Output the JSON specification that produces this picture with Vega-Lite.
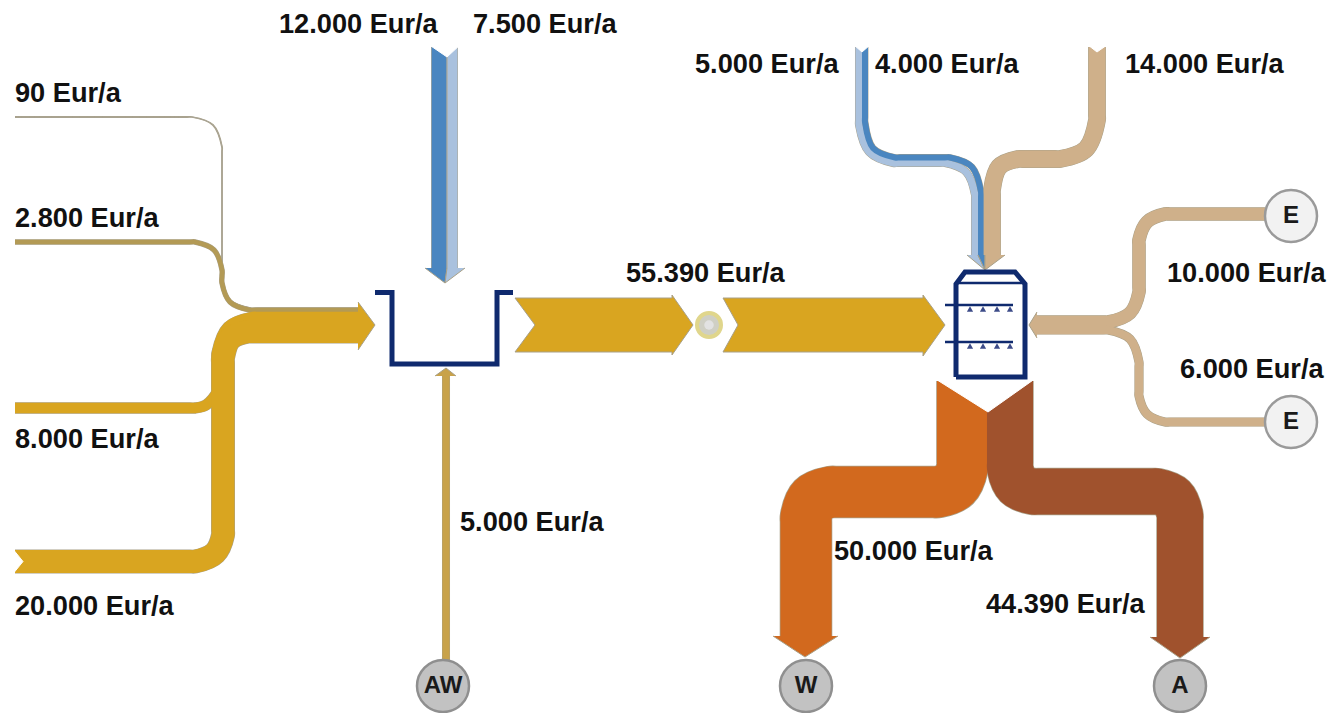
{"$schema":"https://vega.github.io/schema/vega-lite/v6.json","width":1332,"height":713,"padding":0,"autosize":"none","background":"white","config":{"view":{"stroke":null}},
"datasets":{
"flows":[
{"f":"a90","t":"grey","v":90,"s":1,"x":15,"y":117},{"f":"a90","t":"grey","v":90,"s":2,"x":187,"y":117},{"f":"a90","t":"grey","v":90,"s":3,"x":192,"y":117},{"f":"a90","t":"grey","v":90,"s":4,"x":213,"y":125},{"f":"a90","t":"grey","v":90,"s":5,"x":222,"y":147},{"f":"a90","t":"grey","v":90,"s":6,"x":222,"y":152},{"f":"a90","t":"grey","v":90,"s":7,"x":222,"y":273},{"f":"a90","t":"grey","v":90,"s":8,"x":222,"y":278},{"f":"a90","t":"grey","v":90,"s":9,"x":230,"y":300},{"f":"a90","t":"grey","v":90,"s":10,"x":252,"y":308.5},{"f":"a90","t":"grey","v":90,"s":11,"x":257,"y":308.5},{"f":"a90","t":"grey","v":90,"s":12,"x":358,"y":308.5},
{"f":"b28","t":"olive","v":2800,"s":1,"x":15,"y":242},{"f":"b28","t":"olive","v":2800,"s":2,"x":190,"y":242},{"f":"b28","t":"olive","v":2800,"s":3,"x":195,"y":242},{"f":"b28","t":"olive","v":2800,"s":4,"x":214,"y":250},{"f":"b28","t":"olive","v":2800,"s":5,"x":222,"y":270},{"f":"b28","t":"olive","v":2800,"s":6,"x":222,"y":276},{"f":"b28","t":"olive","v":2800,"s":7,"x":222,"y":283},{"f":"b28","t":"olive","v":2800,"s":8,"x":230,"y":302},{"f":"b28","t":"olive","v":2800,"s":9,"x":250,"y":310},{"f":"b28","t":"olive","v":2800,"s":10,"x":255,"y":310},{"f":"b28","t":"olive","v":2800,"s":11,"x":358,"y":310},
{"f":"c80","t":"gold","v":8000,"s":1,"x":15,"y":408},{"f":"c80","t":"gold","v":8000,"s":2,"x":190,"y":408},{"f":"c80","t":"gold","v":8000,"s":3,"x":195,"y":408},{"f":"c80","t":"gold","v":8000,"s":4,"x":206,"y":405},{"f":"c80","t":"gold","v":8000,"s":5,"x":217,"y":392},{"f":"c80","t":"gold","v":8000,"s":6,"x":217,"y":387},{"f":"c80","t":"gold","v":8000,"s":7,"x":217,"y":358},{"f":"c80","t":"gold","v":8000,"s":8,"x":217,"y":353},{"f":"c80","t":"gold","v":8000,"s":9,"x":228,"y":327},{"f":"c80","t":"gold","v":8000,"s":10,"x":253,"y":317},{"f":"c80","t":"gold","v":8000,"s":11,"x":258,"y":317},{"f":"c80","t":"gold","v":8000,"s":12,"x":358,"y":317},
{"f":"d20","t":"gold","v":20000,"s":1,"x":15,"y":561.5},{"f":"d20","t":"gold","v":20000,"s":2,"x":190,"y":561.5},{"f":"d20","t":"gold","v":20000,"s":3,"x":195,"y":561.5},{"f":"d20","t":"gold","v":20000,"s":4,"x":215,"y":553},{"f":"d20","t":"gold","v":20000,"s":5,"x":223,"y":535},{"f":"d20","t":"gold","v":20000,"s":6,"x":223,"y":530},{"f":"d20","t":"gold","v":20000,"s":7,"x":223,"y":363},{"f":"d20","t":"gold","v":20000,"s":8,"x":223,"y":358},{"f":"d20","t":"gold","v":20000,"s":9,"x":230,"y":339},{"f":"d20","t":"gold","v":20000,"s":10,"x":248,"y":331.5},{"f":"d20","t":"gold","v":20000,"s":11,"x":253,"y":331.5},{"f":"d20","t":"gold","v":20000,"s":12,"x":358,"y":331.5},
{"f":"e12","t":"blue","v":12000,"s":1,"x":439,"y":47},{"f":"e12","t":"blue","v":12000,"s":2,"x":439,"y":268},
{"f":"e75","t":"light","v":7500,"s":1,"x":452.5,"y":47},{"f":"e75","t":"light","v":7500,"s":2,"x":452.5,"y":268},
{"f":"g50","t":"olivegold","v":5000,"s":1,"x":446,"y":662},{"f":"g50","t":"olivegold","v":5000,"s":2,"x":446,"y":376},
{"f":"h50","t":"light","v":5000,"s":1,"x":859,"y":47},{"f":"h50","t":"light","v":5000,"s":2,"x":859,"y":120},{"f":"h50","t":"light","v":5000,"s":3,"x":859,"y":125},{"f":"h50","t":"light","v":5000,"s":4,"x":869,"y":152},{"f":"h50","t":"light","v":5000,"s":5,"x":893,"y":163},{"f":"h50","t":"light","v":5000,"s":6,"x":898,"y":163},{"f":"h50","t":"light","v":5000,"s":7,"x":940,"y":163},{"f":"h50","t":"light","v":5000,"s":8,"x":945,"y":163},{"f":"h50","t":"light","v":5000,"s":9,"x":966,"y":172},{"f":"h50","t":"light","v":5000,"s":10,"x":975,"y":195},{"f":"h50","t":"light","v":5000,"s":11,"x":975,"y":200},{"f":"h50","t":"light","v":5000,"s":12,"x":975,"y":255},
{"f":"i40","t":"blue","v":4000,"s":1,"x":865,"y":47},{"f":"i40","t":"blue","v":4000,"s":2,"x":865,"y":117},{"f":"i40","t":"blue","v":4000,"s":3,"x":865,"y":122},{"f":"i40","t":"blue","v":4000,"s":4,"x":873,"y":148},{"f":"i40","t":"blue","v":4000,"s":5,"x":895,"y":157.5},{"f":"i40","t":"blue","v":4000,"s":6,"x":900,"y":157.5},{"f":"i40","t":"blue","v":4000,"s":7,"x":945,"y":157.5},{"f":"i40","t":"blue","v":4000,"s":8,"x":950,"y":157.5},{"f":"i40","t":"blue","v":4000,"s":9,"x":972,"y":167},{"f":"i40","t":"blue","v":4000,"s":10,"x":981,"y":192},{"f":"i40","t":"blue","v":4000,"s":11,"x":981,"y":197},{"f":"i40","t":"blue","v":4000,"s":12,"x":981,"y":255},
{"f":"j14","t":"tan","v":14000,"s":1,"x":1097,"y":47},{"f":"j14","t":"tan","v":14000,"s":2,"x":1097,"y":115},{"f":"j14","t":"tan","v":14000,"s":3,"x":1097,"y":120},{"f":"j14","t":"tan","v":14000,"s":4,"x":1086,"y":149},{"f":"j14","t":"tan","v":14000,"s":5,"x":1060,"y":159},{"f":"j14","t":"tan","v":14000,"s":6,"x":1055,"y":159},{"f":"j14","t":"tan","v":14000,"s":7,"x":1023,"y":159},{"f":"j14","t":"tan","v":14000,"s":8,"x":1018,"y":159},{"f":"j14","t":"tan","v":14000,"s":9,"x":999,"y":167},{"f":"j14","t":"tan","v":14000,"s":10,"x":992,"y":190},{"f":"j14","t":"tan","v":14000,"s":11,"x":992,"y":195},{"f":"j14","t":"tan","v":14000,"s":12,"x":992,"y":255},
{"f":"k10","t":"tan","v":10000,"s":1,"x":1265,"y":214},{"f":"k10","t":"tan","v":10000,"s":2,"x":1170,"y":214},{"f":"k10","t":"tan","v":10000,"s":3,"x":1165,"y":214},{"f":"k10","t":"tan","v":10000,"s":4,"x":1147,"y":222},{"f":"k10","t":"tan","v":10000,"s":5,"x":1139,"y":240},{"f":"k10","t":"tan","v":10000,"s":6,"x":1139,"y":245},{"f":"k10","t":"tan","v":10000,"s":7,"x":1139,"y":287},{"f":"k10","t":"tan","v":10000,"s":8,"x":1139,"y":292},{"f":"k10","t":"tan","v":10000,"s":9,"x":1130,"y":313},{"f":"k10","t":"tan","v":10000,"s":10,"x":1108,"y":322},{"f":"k10","t":"tan","v":10000,"s":11,"x":1103,"y":322},{"f":"k10","t":"tan","v":10000,"s":12,"x":1036,"y":322},
{"f":"l60","t":"tan","v":6000,"s":1,"x":1265,"y":422},{"f":"l60","t":"tan","v":6000,"s":2,"x":1170,"y":422},{"f":"l60","t":"tan","v":6000,"s":3,"x":1165,"y":422},{"f":"l60","t":"tan","v":6000,"s":4,"x":1147,"y":414},{"f":"l60","t":"tan","v":6000,"s":5,"x":1139,"y":396},{"f":"l60","t":"tan","v":6000,"s":6,"x":1139,"y":391},{"f":"l60","t":"tan","v":6000,"s":7,"x":1139,"y":367},{"f":"l60","t":"tan","v":6000,"s":8,"x":1139,"y":362},{"f":"l60","t":"tan","v":6000,"s":9,"x":1130,"y":339},{"f":"l60","t":"tan","v":6000,"s":10,"x":1108,"y":330},{"f":"l60","t":"tan","v":6000,"s":11,"x":1103,"y":330},{"f":"l60","t":"tan","v":6000,"s":12,"x":1036,"y":330},
{"f":"m50","t":"orange","v":50000,"s":1,"x":962.5,"y":381},{"f":"m50","t":"orange","v":50000,"s":2,"x":962.5,"y":462},{"f":"m50","t":"orange","v":50000,"s":3,"x":962.5,"y":467},{"f":"m50","t":"orange","v":50000,"s":4,"x":955,"y":485},{"f":"m50","t":"orange","v":50000,"s":5,"x":938,"y":492},{"f":"m50","t":"orange","v":50000,"s":6,"x":933,"y":492},{"f":"m50","t":"orange","v":50000,"s":7,"x":836,"y":492},{"f":"m50","t":"orange","v":50000,"s":8,"x":831,"y":492},{"f":"m50","t":"orange","v":50000,"s":9,"x":813,"y":499},{"f":"m50","t":"orange","v":50000,"s":10,"x":806,"y":517},{"f":"m50","t":"orange","v":50000,"s":11,"x":806,"y":522},{"f":"m50","t":"orange","v":50000,"s":12,"x":806,"y":637},
{"f":"n44","t":"brown","v":44390,"s":1,"x":1010,"y":381},{"f":"n44","t":"brown","v":44390,"s":2,"x":1010,"y":463},{"f":"n44","t":"brown","v":44390,"s":3,"x":1010,"y":468},{"f":"n44","t":"brown","v":44390,"s":4,"x":1017,"y":485},{"f":"n44","t":"brown","v":44390,"s":5,"x":1033,"y":491.5},{"f":"n44","t":"brown","v":44390,"s":6,"x":1038,"y":491.5},{"f":"n44","t":"brown","v":44390,"s":7,"x":1152,"y":491.5},{"f":"n44","t":"brown","v":44390,"s":8,"x":1157,"y":491.5},{"f":"n44","t":"brown","v":44390,"s":9,"x":1173,"y":498},{"f":"n44","t":"brown","v":44390,"s":10,"x":1180,"y":515},{"f":"n44","t":"brown","v":44390,"s":11,"x":1180,"y":520},{"f":"n44","t":"brown","v":44390,"s":12,"x":1180,"y":638}
],
"shapes":[
{"p":"main","t":"gold","s":1,"x":358,"y":302},{"p":"main","t":"gold","s":2,"x":375,"y":325},{"p":"main","t":"gold","s":3,"x":358,"y":350},
{"p":"headb","t":"blue","s":1,"x":425,"y":268},{"p":"headb","t":"blue","s":2,"x":445,"y":283},{"p":"headb","t":"blue","s":3,"x":447,"y":268},
{"p":"headl","t":"light","s":1,"x":447,"y":268},{"p":"headl","t":"light","s":2,"x":445,"y":283},{"p":"headl","t":"light","s":3,"x":465,"y":268},
{"p":"headg","t":"olivegold","s":1,"x":435,"y":376},{"p":"headg","t":"olivegold","s":2,"x":446,"y":368},{"p":"headg","t":"olivegold","s":3,"x":456,"y":376},
{"p":"chev1","t":"gold","s":1,"x":515,"y":298},{"p":"chev1","t":"gold","s":2,"x":672,"y":298},{"p":"chev1","t":"gold","s":3,"x":672,"y":295},{"p":"chev1","t":"gold","s":4,"x":693,"y":325},{"p":"chev1","t":"gold","s":5,"x":672,"y":355},{"p":"chev1","t":"gold","s":6,"x":672,"y":352},{"p":"chev1","t":"gold","s":7,"x":515,"y":352},{"p":"chev1","t":"gold","s":8,"x":535,"y":325},{"p":"chev1","t":"gold","s":9,"x":515,"y":298},
{"p":"chev2","t":"gold","s":1,"x":723,"y":298},{"p":"chev2","t":"gold","s":2,"x":923,"y":298},{"p":"chev2","t":"gold","s":3,"x":923,"y":295},{"p":"chev2","t":"gold","s":4,"x":945,"y":325},{"p":"chev2","t":"gold","s":5,"x":923,"y":356},{"p":"chev2","t":"gold","s":6,"x":923,"y":352},{"p":"chev2","t":"gold","s":7,"x":723,"y":352},{"p":"chev2","t":"gold","s":8,"x":738,"y":325},{"p":"chev2","t":"gold","s":9,"x":723,"y":298},
{"p":"headc1","t":"light","s":1,"x":967,"y":255},{"p":"headc1","t":"light","s":2,"x":985,"y":270},{"p":"headc1","t":"light","s":3,"x":978,"y":255},
{"p":"headc2","t":"blue","s":1,"x":978,"y":255},{"p":"headc2","t":"blue","s":2,"x":985,"y":270},{"p":"headc2","t":"blue","s":3,"x":985,"y":255},
{"p":"headc3","t":"tan","s":1,"x":985,"y":255},{"p":"headc3","t":"tan","s":2,"x":985,"y":270},{"p":"headc3","t":"tan","s":3,"x":1005,"y":255},
{"p":"heade","t":"tan","s":1,"x":1037,"y":312},{"p":"heade","t":"tan","s":2,"x":1029,"y":325},{"p":"heade","t":"tan","s":3,"x":1037,"y":338},
{"p":"heado","t":"orange","s":1,"x":773,"y":636},{"p":"heado","t":"orange","s":2,"x":805,"y":657},{"p":"heado","t":"orange","s":3,"x":838,"y":636},
{"p":"headr","t":"brown","s":1,"x":1150,"y":637},{"p":"headr","t":"brown","s":2,"x":1180,"y":658},{"p":"headr","t":"brown","s":3,"x":1210,"y":637}
],
"notches":[
{"p":"n1","s":1,"x":428,"y":44},{"p":"n1","s":2,"x":447,"y":57},{"p":"n1","s":3,"x":461,"y":44},
{"p":"n2","s":1,"x":934,"y":378},{"p":"n2","s":2,"x":988,"y":412},{"p":"n2","s":3,"x":1036,"y":378},
{"p":"n3","s":1,"x":12,"y":548},{"p":"n3","s":2,"x":23,"y":561.5},{"p":"n3","s":3,"x":12,"y":575},
{"p":"n4","s":1,"x":1088,"y":45},{"p":"n4","s":2,"x":1097,"y":52},{"p":"n4","s":3,"x":1107,"y":45},
{"p":"n5","s":1,"x":854,"y":45},{"p":"n5","s":2,"x":862,"y":52},{"p":"n5","s":3,"x":870,"y":45}
],
"vessels":[
{"p":"trough","w":"thick","s":1,"x":375,"y":292.5},{"p":"trough","w":"thick","s":2,"x":392,"y":292.5},{"p":"trough","w":"thick","s":3,"x":392,"y":364},{"p":"trough","w":"thick","s":4,"x":497,"y":364},{"p":"trough","w":"thick","s":5,"x":497,"y":292.5},{"p":"trough","w":"thick","s":6,"x":513,"y":292.5},
{"p":"tank","w":"thick","s":1,"x":956,"y":377},{"p":"tank","w":"thick","s":2,"x":956,"y":284},{"p":"tank","w":"thick","s":3,"x":965,"y":272},{"p":"tank","w":"thick","s":4,"x":1015,"y":272},{"p":"tank","w":"thick","s":5,"x":1025,"y":284},{"p":"tank","w":"thick","s":6,"x":1025,"y":377},{"p":"tank","w":"thick","s":7,"x":956,"y":377},
{"p":"roof","w":"thin","s":1,"x":956,"y":283},{"p":"roof","w":"thin","s":2,"x":1025,"y":283},
{"p":"bar1","w":"thin","s":1,"x":945,"y":305},{"p":"bar1","w":"thin","s":2,"x":1013,"y":305},
{"p":"bar2","w":"thin","s":1,"x":945,"y":342},{"p":"bar2","w":"thin","s":2,"x":1013,"y":342}
],
"nozzles":[{"x":970,"y":309},{"x":983,"y":309},{"x":997,"y":309},{"x":1010,"y":309},{"x":970,"y":346},{"x":983,"y":346},{"x":997,"y":346},{"x":1010,"y":346}],
"labels":[
{"l":"12.000 Eur/a","x":279,"y":24},{"l":"7.500 Eur/a","x":473,"y":24},{"l":"90 Eur/a","x":15,"y":93},{"l":"2.800 Eur/a","x":15,"y":218},{"l":"8.000 Eur/a","x":15,"y":439},{"l":"20.000 Eur/a","x":15,"y":606},{"l":"5.000 Eur/a","x":460,"y":522},{"l":"55.390 Eur/a","x":626,"y":273},{"l":"5.000 Eur/a","x":695,"y":64},{"l":"4.000 Eur/a","x":875,"y":64},{"l":"14.000 Eur/a","x":1125,"y":64},{"l":"10.000 Eur/a","x":1167,"y":273},{"l":"6.000 Eur/a","x":1180,"y":369},{"l":"50.000 Eur/a","x":834,"y":551},{"l":"44.390 Eur/a","x":986,"y":604}
],
"nodes":[{"n":"AW","k":"sink","x":443,"y":686},{"n":"W","k":"sink","x":806,"y":686},{"n":"A","k":"sink","x":1180,"y":686},{"n":"E","k":"source","x":1291,"y":216},{"n":"E","k":"source","x":1291,"y":422}]
},
"encoding":{
"x":{"field":"x","type":"quantitative","scale":{"domain":[0,1332],"nice":false,"zero":false},"axis":null},
"y":{"field":"y","type":"quantitative","scale":{"domain":[713,0],"nice":false,"zero":false},"axis":null}
},
"layer":[
{"data":{"name":"flows"},"mark":{"type":"line","interpolate":"catmull-rom","color":"#a8a088","strokeCap":"butt","strokeJoin":"round"},"encoding":{"detail":{"field":"f"},"order":{"field":"s","type":"quantitative"},"size":{"field":"v","type":"quantitative","legend":null,"scale":{"type":"pow","exponent":0.9,"domain":[0,55390],"range":[1.6,57.5]}}}},
{"data":{"name":"flows"},"mark":{"type":"line","interpolate":"catmull-rom","strokeCap":"butt","strokeJoin":"round"},"encoding":{"detail":{"field":"f"},"order":{"field":"s","type":"quantitative"},"size":{"field":"v","type":"quantitative","legend":null,"scale":{"type":"pow","exponent":0.9,"domain":[0,55390],"range":[0.8,56]}},"color":{"field":"t","type":"nominal","legend":null,"scale":{"domain":["grey","olive","gold","olivegold","blue","light","tan","orange","brown"],"range":["#a9a598","#b39a55","#d9a520","#c8a24a","#4a86c0","#a9c1de","#cfb08a","#d2691e","#a0522d"]}}}},
{"data":{"name":"notches"},"mark":{"type":"line","interpolate":"linear-closed","fill":"white","stroke":"white","strokeWidth":1},"encoding":{"detail":{"field":"p"},"order":{"field":"s","type":"quantitative"}}},
{"data":{"name":"shapes"},"mark":{"type":"line","interpolate":"linear","stroke":"#a8a088","strokeWidth":1},"encoding":{"detail":{"field":"p"},"order":{"field":"s","type":"quantitative"},"fill":{"field":"t","type":"nominal","legend":null,"scale":{"domain":["grey","olive","gold","olivegold","blue","light","tan","orange","brown"],"range":["#a9a598","#b39a55","#d9a520","#c8a24a","#4a86c0","#a9c1de","#cfb08a","#d2691e","#a0522d"]}}}},
{"data":{"values":[{"x":709,"y":325}]},"mark":{"type":"point","filled":true,"fill":"#cfcfc4","stroke":"#e0d68c","strokeWidth":4,"size":576,"shape":"circle","opacity":1}},
{"data":{"values":[{"x":709,"y":325}]},"mark":{"type":"point","filled":true,"fill":"#e2e2e2","size":90,"shape":"circle","opacity":1}},
{"data":{"name":"vessels"},"mark":{"type":"line","color":"#0f2a6e","strokeJoin":"miter","strokeCap":"butt"},"encoding":{"detail":{"field":"p"},"order":{"field":"s","type":"quantitative"},"strokeWidth":{"field":"w","type":"nominal","legend":null,"scale":{"domain":["thick","thin"],"range":[5,2.5]}}}},
{"data":{"name":"nozzles"},"mark":{"type":"point","shape":"triangle-up","filled":true,"color":"#3c4b88","size":38,"opacity":1}},
{"data":{"name":"labels"},"mark":{"type":"text","align":"left","baseline":"middle","dy":1,"font":"Liberation Sans","fontWeight":"bold","fontSize":27.2,"color":"#111111"},"encoding":{"text":{"field":"l"}}},
{"data":{"name":"nodes"},"mark":{"type":"point","shape":"circle","filled":true,"strokeWidth":2.5,"size":2704,"opacity":1},"encoding":{"fill":{"field":"k","type":"nominal","legend":null,"scale":{"domain":["sink","source"],"range":["#c2c2c2","#f2f2f2"]}},"stroke":{"field":"k","type":"nominal","legend":null,"scale":{"domain":["sink","source"],"range":["#8f8f8f","#9a9a9a"]}}}},
{"data":{"name":"nodes"},"mark":{"type":"text","align":"center","baseline":"middle","font":"Liberation Sans","fontWeight":"bold","fontSize":24,"color":"#1a1a1a"},"encoding":{"text":{"field":"n"}}}
],
"resolve":{"scale":{"size":"independent","fill":"independent","stroke":"independent"}}
}
